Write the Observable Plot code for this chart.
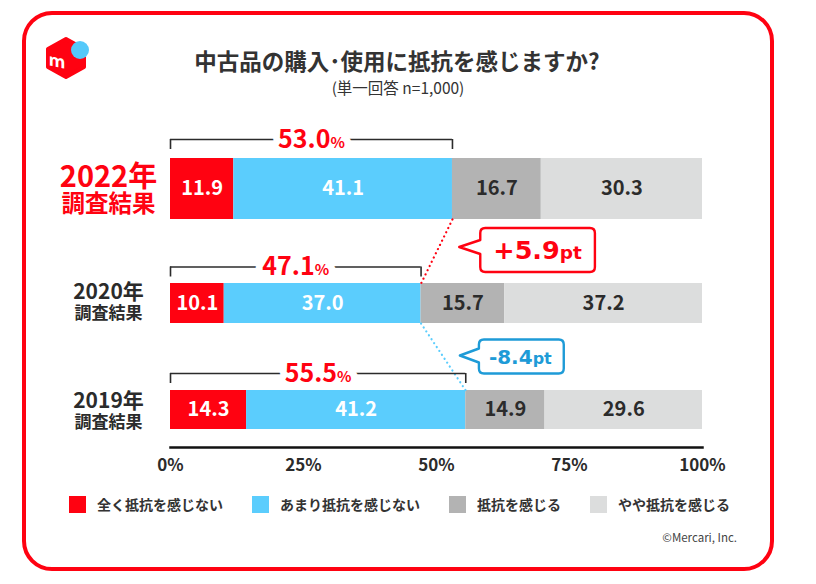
<!DOCTYPE html>
<html lang="ja">
<head>
<meta charset="utf-8">
<script src="https://cdn.jsdelivr.net/npm/d3@7"></script>
<script src="https://cdn.jsdelivr.net/npm/@observablehq/plot@0.6"></script>
<style>
  html, body { margin: 0; padding: 0; background: #fff; }
  #wrap { position: relative; width: 816px; height: 584px; overflow: hidden;
          font-family: "Noto Sans CJK JP", "Noto Sans", sans-serif; color: #333; }
  #frame { position: absolute; left: 22px; top: 11px; width: 744px; height: 552px;
           border: 4px solid #ff0211; border-radius: 30px; z-index: 0; }
  #chart { position: absolute; left: 0; top: 0; z-index: 1; }
  #logo { position: absolute; left: 0; top: 0; z-index: 2; }
  .head { position: absolute; width: 816px; text-align: center; z-index: 2; line-height: 1; white-space: nowrap; }
  #title { left: -11px; top: 49px; font-size: 22.5px; font-weight: 700; color: #333; }
  #subtitle { left: -10px; top: 80px; font-size: 15.5px; color: #333; }
  #legend { position: absolute; left: 69px; top: 496px; display: flex; align-items: center; gap: 29px; z-index: 2; }
  .item { display: flex; align-items: center; }
  .sw { width: 17px; height: 17px; margin-right: 11px; }
  .lab { font-size: 14px; font-weight: 700; color: #333; line-height: 17px; white-space: nowrap; }
  #copy { position: absolute; right: 79px; top: 532px; font-size: 11.5px; color: #444; z-index: 2; line-height: 1; }
</style>
</head>
<body>
<div id="wrap">
  <div id="frame"></div>
  <div id="chart"></div>
  <svg id="logo" width="100" height="100" viewBox="0 0 100 100">
    <polygon points="66,39 84,49 84,67 66,77 48,67 48,49" fill="#ff0211" stroke="#ff0211" stroke-width="4" stroke-linejoin="round"></polygon>
    <text x="57" y="67" fill="#fff" font-size="17" font-weight="700" text-anchor="middle"
          font-family="Noto Sans, sans-serif" transform="skewY(12) translate(0,-12)">m</text>
    <circle cx="80" cy="50" r="9" fill="#55c9fa"></circle>
  </svg>
  <div id="title" class="head"></div>
  <div id="subtitle" class="head"></div>
  <div id="legend"></div>
  <div id="copy"></div>
</div>
<script>
// ---------------- data ----------------
const years = ["2022", "2020", "2019"];
const categories = ["全く抵抗を感じない", "あまり抵抗を感じない", "抵抗を感じる", "やや抵抗を感じる"];
const values2022 = [11.9, 41.1, 16.7, 30.3];
const values2020 = [10.1, 37.0, 15.7, 37.2];
const values2019 = [14.3, 41.2, 14.9, 29.6];
const xTicks = [0, 25, 50, 75, 100];
const titleText = "中古品の購入･使用に抵抗を感じますか?";
const subtitleText = "(単一回答 n=1,000)";
const yearSuffix = "年";
const surveyLabel = "調査結果";
const copyrightText = "©Mercari, Inc.";

// ---------------- style / layout ----------------
const FONT = '"Noto Sans CJK JP", "Noto Sans", sans-serif';
const CALLOUT_FONT = '"DejaVu Sans", "Noto Sans", sans-serif';
const RED = "#ff0211", BLUE_LINE = "#5bcdfd", BLUE_DARK = "#1e9bd7", INK = "#2b2b2b";
const palette = [RED, "#5bcdfd", "#b3b3b3", "#dcdddd"];
const valueInk = ["#ffffff", "#ffffff", INK, INK];
const rowLayout = [
  {top: 38.5, bottom: 22.5, valueDy: -8, yearDy: -20.5, subDy: 6.5, yearSize: 29, subSize: 23.5, color: RED, gap: 19},
  {top: 20, bottom: 20, valueDy: 0, yearDy: -12, subDy: 9, yearSize: 21, subSize: 17, color: INK, gap: 16.5},
  {top: 19.5, bottom: 19.5, valueDy: 0, yearDy: -9.5, subDy: 11.5, yearSize: 21, subSize: 17, color: INK, gap: 17}
];
const yRange = [196.5, 409.5];
const unit = (yRange[1] - yRange[0]) / (years.length - 1);
const yAt = (i, px) => i + px / unit;

// ---------------- derived tables ----------------
const seriesByYear = [values2022, values2020, values2019];
const segs = years.flatMap((yr, i) => {
  let c = 0;
  return seriesByYear[i].map((v, j) => {
    const s = {year: yr, i, j, v, x1: c, x2: c + v};
    c += v;
    return s;
  });
});
const totals = years.map((yr, i) => ({i, year: yr, total: +(seriesByYear[i][0] + seriesByYear[i][1]).toFixed(1)}));
const bracketY = d => yAt(d.i, -(rowLayout[d.i].top + rowLayout[d.i].gap));
const bracketEnds = totals.flatMap(t => [{i: t.i, x: 0}, {i: t.i, x: t.total}]);
const changes = [0, 1].map(k => ({
  k,
  x1: totals[k].total, y1: yAt(k, rowLayout[k].bottom),
  x2: totals[k + 1].total, y2: yAt(k + 1, -rowLayout[k + 1].top),
  diff: +(totals[k].total - totals[k + 1].total).toFixed(1)
}));
const yearLabels = years.map((y, i) => ({i, label: y + yearSuffix + "\n" + surveyLabel}));

const plot = Plot.plot({
  width: 816, height: 584,
  marginLeft: 170, marginRight: 114, marginTop: 0, marginBottom: 137,
  style: {background: "transparent", fontFamily: FONT, overflow: "visible"},
  x: {domain: [0, 100], label: null},
  y: {domain: [0, years.length - 1], range: yRange, axis: null},
  color: {type: "identity"},
  marks: [
    Plot.rect(segs, {x1: "x1", x2: "x2",
      y1: d => yAt(d.i, -rowLayout[d.i].top), y2: d => yAt(d.i, rowLayout[d.i].bottom),
      fill: d => palette[d.j]}),
    Plot.text(segs, {x: d => (d.x1 + d.x2) / 2, y: d => yAt(d.i, rowLayout[d.i].valueDy),
      text: d => d.v.toFixed(1), fill: d => valueInk[d.j], fontSize: 20, fontWeight: "bold"}),
    Plot.link(changes, {x1: "x1", y1: "y1", x2: "x2", y2: "y2",
      stroke: d => d.diff >= 0 ? RED : BLUE_LINE, strokeWidth: 2.2,
      strokeDasharray: "0.1 4.6", strokeLinecap: "round"}),
    Plot.ruleY(totals, {y: bracketY, x1: 0, x2: "total", stroke: INK, strokeWidth: 1.6}),
    Plot.ruleX(bracketEnds, {x: "x", y1: d => bracketY(d), y2: d => bracketY(d) + 10 / unit,
      stroke: INK, strokeWidth: 1.6}),
    Plot.text(totals, {x: d => d.total / 2, y: bracketY, text: d => d.total.toFixed(1) + "%",
      fill: RED, stroke: "white", strokeWidth: 14, paintOrder: "stroke", strokeLinejoin: "round",
      fontSize: 25, fontWeight: "bold", ariaDescription: "totals"}),
    Plot.text(yearLabels, {x: 0, dx: -62, y: d => d.i, text: "label",
      fill: d => rowLayout[d.i].color, fontSize: d => rowLayout[d.i].yearSize, fontWeight: "bold",
      ariaDescription: "years"}),
    Plot.axisX(xTicks, {tickSize: 0, tickPadding: 11, tickFormat: d => d + "%", fontSize: 17,
      fontWeight: "bold", color: INK, label: null}),
    Plot.frame({anchor: "bottom", stroke: "#111", strokeWidth: 2.5})
  ]
});
document.getElementById("chart").appendChild(plot);

// split "53.0%" into number + small percent sign, with a white halo behind
d3.select(plot).selectAll('g[aria-description="totals"] text').each(function () {
  const t = this.textContent;
  this.textContent = "";
  const s = d3.select(this);
  s.append("tspan").text(t.slice(0, -1));
  s.append("tspan").attr("font-size", 15).text("%");
  const halo = this.cloneNode(true);
  halo.setAttribute("fill", "white");
  this.parentNode.insertBefore(halo, this);
  this.setAttribute("stroke", "none");
});

// two-line year labels: year line and smaller "調査結果" line
d3.select(plot).selectAll('g[aria-description="years"] text').each(function (_, k) {
  const L = rowLayout[k];
  const tsp = this.querySelectorAll("tspan");
  const sizes = [L.yearSize, L.subSize], dys = [L.yearDy, L.subDy];
  tsp.forEach((ts, n) => {
    ts.removeAttribute("dy");
    ts.setAttribute("x", 0);
    ts.setAttribute("font-size", sizes[n]);
    ts.setAttribute("y", (dys[n] + 0.36 * sizes[n]) + "px");
  });
});

// change call-outs, anchored on the dotted links
const sx = plot.scale("x"), sy = plot.scale("y");
const calloutStyle = {
  up:   {big: 25.5, small: 18.5, h: 44, padL: 13, padR: 13, color: RED, tipDx: 23, tipDy: -4, gap: 21, boxDy: -1},
  down: {big: 20, small: 16, h: 34, padL: 10, padR: 12, color: BLUE_DARK, tipDx: 17, tipDy: -1, gap: 19, boxDy: 0}
};
const svg = d3.select(plot);
changes.forEach(c => {
  const st = c.diff >= 0 ? calloutStyle.up : calloutStyle.down;
  const mx = (sx.apply(c.x1) + sx.apply(c.x2)) / 2;
  const my = (sy.apply(c.y1) + sy.apply(c.y2)) / 2;
  const tipX = mx + st.tipDx, tipY = my + st.tipDy;
  const bx = tipX + st.gap, cy = my + st.boxDy, top = cy - st.h / 2;
  const g = svg.append("g");
  const path = g.append("path").attr("fill", "#fff").attr("stroke", st.color)
    .attr("stroke-width", 2.4).attr("stroke-linejoin", "round");
  const txt = g.append("text").attr("x", bx + st.padL).attr("y", cy + st.big * 0.36)
    .attr("fill", st.color).attr("font-weight", "bold").attr("font-family", CALLOUT_FONT).attr("text-anchor", "start");
  txt.append("tspan").attr("font-size", st.big).text((c.diff >= 0 ? "+" : "-") + Math.abs(c.diff).toFixed(1));
  txt.append("tspan").attr("font-size", st.small).text("pt");
  const w = st.padL + txt.node().getComputedTextLength() + st.padR;
  const r = 5, h = st.h, j1 = tipY - 7, j2 = tipY + 7;
  path.attr("d", `M${bx},${j1} L${bx},${top + r} Q${bx},${top} ${bx + r},${top} L${bx + w - r},${top} ` +
    `Q${bx + w},${top} ${bx + w},${top + r} L${bx + w},${top + h - r} Q${bx + w},${top + h} ${bx + w - r},${top + h} ` +
    `L${bx + r},${top + h} Q${bx},${top + h} ${bx},${top + h - r} L${bx},${j2} L${tipX},${tipY} Z`);
});

// titles, legend, credit
document.getElementById("title").textContent = titleText;
document.getElementById("subtitle").textContent = subtitleText;
document.getElementById("copy").textContent = copyrightText;
const legend = d3.select("#legend");
categories.forEach((c, j) => {
  const it = legend.append("div").attr("class", "item");
  it.append("div").attr("class", "sw").style("background", palette[j]);
  it.append("div").attr("class", "lab").text(c);
});
</script>
</body>
</html>
